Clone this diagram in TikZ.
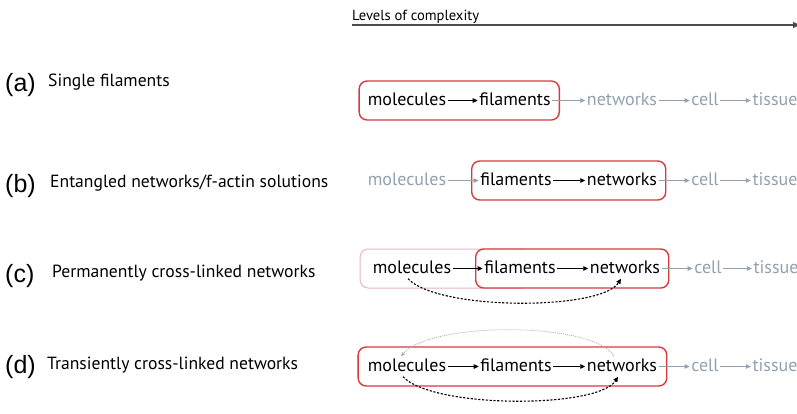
\documentclass[tikz,border=0pt]{standalone}
\usepackage{fontspec}
\setmainfont{PT Sans}
\newfontfamily\tagfont{Liberation Sans}
\usetikzlibrary{arrows.meta,fit,backgrounds}
\definecolor{boxred}{RGB}{214,58,64}
\definecolor{boxpink}{RGB}{234,178,198}
\definecolor{fadegray}{RGB}{146,160,176}
\definecolor{loopgray}{RGB}{175,175,178}
\begin{document}
\begin{tikzpicture}[x=1pt,y=1pt,
  word/.style={font=\fontsize{18}{20}\selectfont, inner sep=1.5pt, text height=13pt, text depth=4pt},
  faded/.style={word, text=fadegray},
  link/.style={-{Triangle[length=5pt,width=4.5pt]}, line width=0.9pt},
  fadelink/.style={link, draw=fadegray},
  redbox/.style={draw=boxred, fill=white, line width=1.4pt, rounded corners=8pt, inner xsep=7pt, inner ysep=0pt, minimum height=39pt},
  pinkbox/.style={draw=boxpink, line width=1pt, rounded corners=8pt, inner xsep=11pt, inner ysep=0pt, minimum height=39pt},
  rowtag/.style={font=\tagfont\fontsize{25}{27}\selectfont, anchor=base west, inner sep=0pt},
  rowname/.style={font=\fontsize{17.6}{19}\selectfont, anchor=base west, inner sep=0pt},
  crosslink/.style={-{Triangle[length=5pt,width=4.5pt]}, line width=1.1pt, dash pattern=on 2.2pt off 1.6pt},
  unbind/.style={-{Triangle[length=4pt,width=3.5pt]}, line width=0.8pt, draw=loopgray, dash pattern=on 1pt off 1pt}]
 \useasboundingbox (0,0) rectangle (797,-413);

 % levels of complexity
 \coordinate (lvl start) at (352,-25);
 \coordinate (lvl end) at (800,-25);
 \node (lvl text) at (352,-20) [anchor=base west, inner sep=0pt, font=\fontsize{14.6}{16}\selectfont] {Levels of complexity};
 \draw [-{Triangle[length=7pt,width=6pt]}, line width=1.2pt, draw=black!70] (lvl start) -- (lvl end);

 % row labels
 \node (tag a) at (5,-91) [rowtag] {(a)};
 \node (name a) at (48,-86) [rowname] {Single filaments};
 \node (tag b) at (5,-192) [rowtag] {(b)};
 \node (name b) at (50,-187) [rowname] {Entangled networks/f-actin solutions};
 \node (tag c) at (5,-282) [rowtag] {(c)};
 \node (name c) at (52,-277) [rowname] {Permanently cross-linked networks};
 \node (tag d) at (5,-373) [rowtag] {(d)};
 \node (name d) at (47,-369) [rowname] {Transiently cross-linked networks};

 % row (a)
 \node (a mol) at (407,-100.5) [word] {molecules};
 \node (a fil) at (515,-100.5) [word] {filaments};
 \node (a net) at (622,-100.5) [faded] {networks};
 \node (a cell) at (705,-100.5) [faded] {cell};
 \node (a tis) at (775,-100.5) [faded] {tissue};
 \draw [link] (a mol) -- (a fil);
 \draw [fadelink] (a fil) -- (a net);
 \draw [fadelink] (a net) -- (a cell);
 \draw [fadelink] (a cell) -- (a tis);

 % row (b)
 \node (b mol) at (407,-180.5) [faded] {molecules};
 \node (b fil) at (516,-180.5) [word] {filaments};
 \node (b net) at (622,-180.5) [word] {networks};
 \node (b cell) at (705,-180.5) [faded] {cell};
 \node (b tis) at (775,-180.5) [faded] {tissue};
 \draw [fadelink] (b mol) -- (b fil);
 \draw [link] (b fil) -- (b net);
 \draw [fadelink] (b net) -- (b cell);
 \draw [fadelink] (b cell) -- (b tis);

 % row (c)
 \node (c mol) at (412,-268.5) [word] {molecules};
 \node (c fil) at (520,-268.5) [word] {filaments};
 \node (c net) at (625,-268.5) [word] {networks};
 \node (c cell) at (708,-268.5) [faded] {cell};
 \node (c tis) at (776,-268.5) [faded] {tissue};
 \draw [link] (c mol) -- (c fil);
 \draw [link] (c fil) -- (c net);
 \draw [fadelink] (c net) -- (c cell);
 \draw [fadelink] (c cell) -- (c tis);
 \draw [crosslink] ([xshift=-4pt]c mol.south) .. controls +(30,-32) and +(-20,-32) .. ([xshift=-4pt]c net.south);

 % row (d)
 \node (d mol) at (407,-366.5) [word] {molecules};
 \node (d fil) at (516,-366.5) [word] {filaments};
 \node (d net) at (622,-366.5) [word] {networks};
 \node (d cell) at (705,-366.5) [faded] {cell};
 \node (d tis) at (775,-366.5) [faded] {tissue};
 \draw [link] (d mol) -- (d fil);
 \draw [link] (d fil) -- (d net);
 \draw [fadelink] (d net) -- (d cell);
 \draw [fadelink] (d cell) -- (d tis);
 \draw [crosslink] ([xshift=-4pt]d mol.south) .. controls +(30,-32) and +(-20,-32) .. ([xshift=-4pt]d net.south);
 \draw [unbind] ([xshift=-8pt]d net.north) .. controls +(-20,35) and +(30,35) .. ([xshift=-6pt]d mol.north);

 % boxes
 \begin{scope}[on background layer]
  \node (a box) [redbox, fit=(a mol)(a fil)] {};
  \node (b box) [redbox, fit=(b fil)(b net)] {};
  \node (c pink) [pinkbox, fit=(c mol)(c fil.center)] {};
  \node (c box) [redbox, fit=(c fil)(c net)] {};
  \node (d box) [redbox, inner xsep=8pt, fit=(d mol)(d net)] {};
 \end{scope}
\end{tikzpicture}
\end{document}
